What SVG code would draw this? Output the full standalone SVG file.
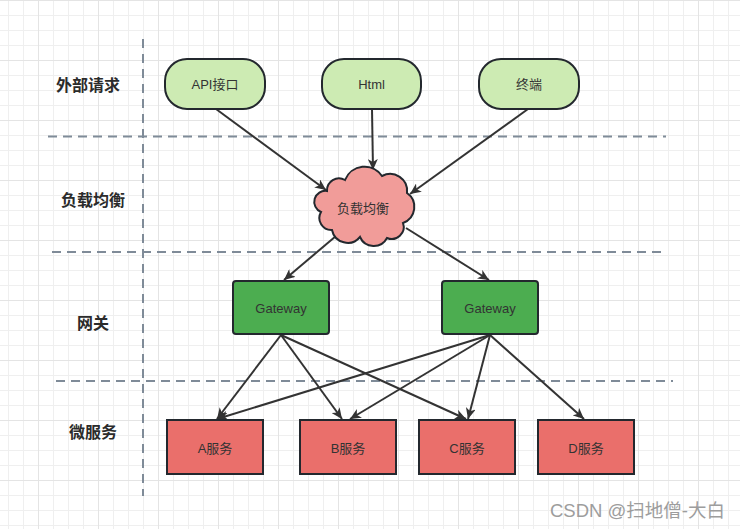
<svg xmlns="http://www.w3.org/2000/svg" width="740" height="529" viewBox="0 0 740 529">
<defs>
<pattern id="grid" patternUnits="userSpaceOnUse" x="8" y="0" width="60" height="60">
<rect width="60" height="60" fill="#ffffff"/>
<path d="M0.5 0V60M15.5 0V60M45.5 0V60M0 15.5H60M0 30.5H60M0 45.5H60" stroke="#efefef" stroke-width="1" fill="none"/>
<path d="M30.5 0V60M0 0.5H60" stroke="#e4e4e4" stroke-width="1" fill="none"/>
</pattern>
<marker id="arr" markerUnits="userSpaceOnUse" markerWidth="12" markerHeight="10" refX="11" refY="5" orient="auto">
<path d="M0,0 L11,5 L0,10 L3,5 z" fill="#333333"/>
</marker>
<style>
.sep{stroke:#7f8b98;stroke-width:2;stroke-dasharray:9 6;fill:none}
.lbl{font-family:"Liberation Sans","Noto Sans CJK SC",sans-serif;font-size:16px;font-weight:bold;fill:#2b2b2b;text-anchor:middle;dominant-baseline:central}
.txt{font-family:"Liberation Sans","Noto Sans CJK SC",sans-serif;font-size:13px;fill:#333333;text-anchor:middle;dominant-baseline:central}
.ext{fill:#cdebb3;stroke:#23282e;stroke-width:2}
.gw{fill:#4cad50;stroke:#23282e;stroke-width:2}
.svc{fill:#ea6f6b;stroke:#23282e;stroke-width:2}
.cloud{fill:#f19c99;stroke:#23282e;stroke-width:2}
.edge line{stroke:#333333;stroke-width:2;marker-end:url(#arr)}
</style>
</defs>
<rect width="740" height="529" fill="url(#grid)"/>

<g id="separators">
<line class="sep" x1="143" y1="39" x2="143" y2="496"/>
<line class="sep" x1="48" y1="136.5" x2="666" y2="136.5"/>
<line class="sep" x1="52" y1="252" x2="666" y2="252"/>
<line class="sep" x1="56" y1="381" x2="673" y2="381"/>
</g>

<g id="labels">
<text class="lbl" x="88" y="85">外部请求</text>
<text class="lbl" x="93" y="200">负载均衡</text>
<text class="lbl" x="93" y="323">网关</text>
<text class="lbl" x="93" y="432">微服务</text>
</g>

<g id="edges" class="edge">
<line x1="216" y1="109" x2="326" y2="190"/>
<line x1="372" y1="109" x2="373" y2="170"/>
<line x1="528" y1="109" x2="410" y2="194"/>
<line x1="336" y1="236" x2="284" y2="280"/>
<line x1="406" y1="228" x2="489" y2="280"/>
<line x1="281" y1="335" x2="217" y2="419"/>
<line x1="281" y1="335" x2="342" y2="419"/>
<line x1="281" y1="335" x2="466" y2="419"/>
<line x1="490" y1="335" x2="217" y2="419"/>
<line x1="490" y1="335" x2="350" y2="419"/>
<line x1="490" y1="335" x2="468" y2="419"/>
<line x1="490" y1="335" x2="584" y2="419"/>
</g>

<g id="api">
<rect class="ext" x="165" y="59" width="100" height="50" rx="22" ry="22"/>
<text class="txt" x="215" y="84">API接口</text>
</g>
<g id="html">
<rect class="ext" x="322" y="59" width="99" height="50" rx="22" ry="22"/>
<text class="txt" x="371.5" y="84">Html</text>
</g>
<g id="terminal">
<rect class="ext" x="479" y="59" width="100" height="50" rx="22" ry="22"/>
<text class="txt" x="529" y="84">终端</text>
</g>

<g id="lb">
<path class="cloud" d="M327,191 A12,12 0 0 1 345,180 A21,21 0 0 1 382,176 A17,17 0 0 1 407,193 A17,17 0 0 1 403,223 A12,12 0 0 1 387,238 A15,15 0 0 1 360,237 A16,16 0 0 1 332,230 A12,12 0 0 1 321,212 A11,11 0 0 1 327,191 Z"/>
<text class="txt" x="363" y="208">负载均衡</text>
</g>

<g id="gateway1">
<rect class="gw" x="233" y="281" width="96" height="53" rx="3"/>
<text class="txt" x="281" y="308">Gateway</text>
</g>
<g id="gateway2">
<rect class="gw" x="442" y="281" width="96" height="53" rx="3"/>
<text class="txt" x="490" y="308">Gateway</text>
</g>

<g id="svcA">
<rect class="svc" x="167" y="420" width="96" height="54"/>
<text class="txt" x="215" y="448">A服务</text>
</g>
<g id="svcB">
<rect class="svc" x="300" y="420" width="96" height="54"/>
<text class="txt" x="348" y="448">B服务</text>
</g>
<g id="svcC">
<rect class="svc" x="419" y="420" width="96" height="54"/>
<text class="txt" x="467" y="448">C服务</text>
</g>
<g id="svcD">
<rect class="svc" x="538" y="420" width="96" height="54"/>
<text class="txt" x="586" y="448">D服务</text>
</g>

<text x="550" y="517" font-family="'Liberation Sans','Noto Sans CJK SC',sans-serif" font-size="18.5" fill="#9d9d9d">CSDN @扫地僧-大白</text>
</svg>
